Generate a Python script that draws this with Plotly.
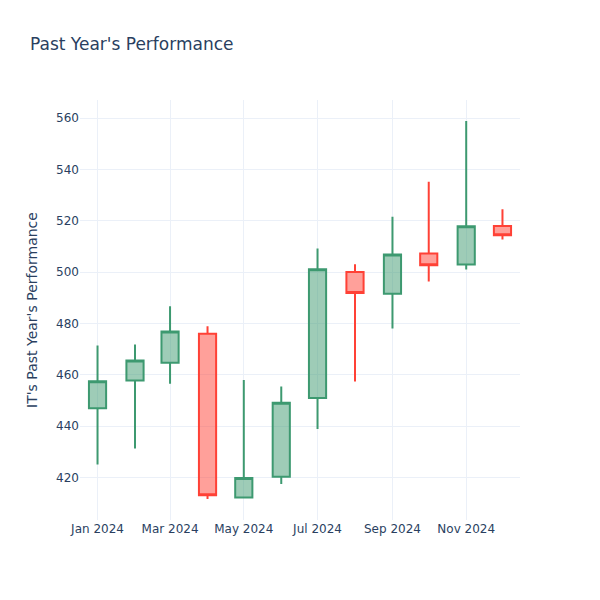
import plotly.graph_objects as go

dates = ["2024-01-01", "2024-02-01", "2024-03-01", "2024-04-01", "2024-05-01", "2024-06-01",
         "2024-07-01", "2024-08-01", "2024-09-01", "2024-10-01", "2024-11-01", "2024-12-01"]
open_ = [447.0, 457.8, 464.7, 476.0, 412.2, 420.3, 451.0, 500.1, 491.6, 507.3, 503.0, 518.0]
high = [471.4, 471.8, 486.7, 478.9, 458.0, 455.4, 509.2, 503.1, 521.6, 535.2, 558.9, 524.5]
low = [425.0, 431.3, 456.5, 411.6, 412.0, 417.4, 438.9, 457.4, 478.0, 496.4, 501.0, 512.7]
close = [457.5, 465.6, 476.9, 413.1, 419.8, 449.1, 501.1, 491.9, 506.9, 502.7, 517.9, 514.4]

W, H = 592, 592
fig = go.Figure(go.Candlestick(x=dates, open=open_, high=high, low=low, close=close))
fig.update_layout(
    template="plotly_white",
    width=W, height=H,
    margin=dict(l=72, r=80, t=92, b=80),
    title=dict(text="Past Year's Performance", x=22 / W, xanchor="left",
               y=1 - 36 / H, yanchor="middle"),
    yaxis_title="IT's Past Year's Performance",
    xaxis_rangeslider_visible=False,
    font_family="DejaVu Sans",
)
fig.write_html("out.html")
